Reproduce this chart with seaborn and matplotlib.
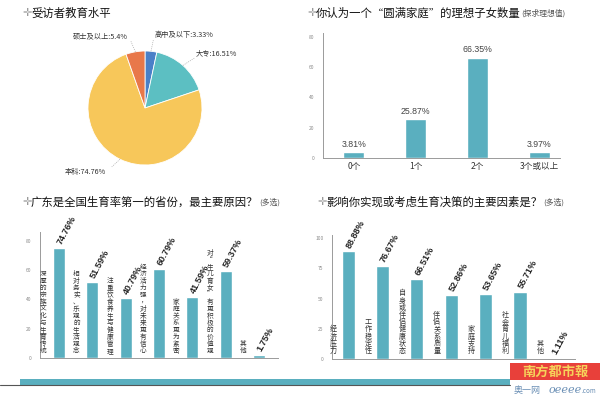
import matplotlib
matplotlib.use("Agg")
import matplotlib.pyplot as plt
import numpy as np
import pandas as pd
import seaborn as sns

W, H = 600, 399
CJK = ["Noto Sans CJK SC", "DejaVu Sans"]
BAR_COLOR = "#5aafbf"
TEXT_COLOR = "#333333"
TICK_COLOR = "#8a8a8a"
AXIS_COLOR = "#9a9a9a"

EDU_LABELS = ["高中及以下", "大专", "本科", "硕士及以上"]
EDU_VALUES = [3.33, 16.51, 74.76, 5.4]
EDU_TEXT = ["3.33%", "16.51%", "74.76%", "5.4%"]
EDU_COLORS = ["#4a80c8", "#5cbfc2", "#f7c75a", "#e8784a"]

KIDS_LABELS = ["0个", "1个", "2个", "3个或以上"]
KIDS_VALUES = [3.81, 25.87, 66.35, 3.97]

GD_LABELS = [
    "深厚的宗族文化与生育传统",
    "相对务实、乐观的生活观念",
    "注重饮食养生与健康管理",
    "经济活力强，对未来更有信心",
    "家庭关系更为紧密",
    "对“生儿育女”有更积极的价值观",
    "其他",
]
GD_VALUES = [74.76, 51.59, 40.79, 60.79, 41.59, 59.37, 1.75]

FACTOR_LABELS = ["经济压力", "工作稳定性", "自身或伴侣健康状态", "伴侣关系质量",
                 "家庭支持", "社会育儿福利", "其他"]
FACTOR_VALUES = [88.88, 76.67, 66.51, 52.86, 53.65, 55.71, 1.11]


def px_axes(fig, left, top, right, bottom):
    return fig.add_axes([left / W, 1 - bottom / H, (right - left) / W, (bottom - top) / H])


def style_axes(ax, ylim, yticks):
    ax.set_ylim(*ylim)
    ax.set_yticks(yticks)
    ax.set_yticklabels([str(t) for t in yticks], fontsize=3.5, color=TICK_COLOR)
    ax.tick_params(axis="y", length=0, pad=6)
    ax.set_xlabel("")
    ax.set_ylabel("")
    ax.grid(False)
    ax.set_facecolor("none")
    ax.spines[["top", "right"]].set_visible(False)
    for side in ["left", "bottom"]:
        ax.spines[side].set_color(AXIS_COLOR)
        ax.spines[side].set_linewidth(0.7)


def draw_bars(ax, labels, values, width):
    df = pd.DataFrame({"cat": labels, "val": values})
    sns.barplot(data=df, x="cat", y="val", color=BAR_COLOR, saturation=1,
                width=width, ax=ax, errorbar=None)


def rotated_values(ax, values, fontsize):
    for i, v in enumerate(values):
        ax.text(i + 0.12, v + 1.5, f"{v:.2f}%", rotation=62, rotation_mode="anchor",
                ha="left", va="bottom", fontsize=fontsize, fontweight="bold",
                color="#222222", family=["Liberation Sans", "DejaVu Sans"])


def vertical_labels(fig, ax, labels, offset, fontsize, bottom_px, step_px):
    # stack the characters one under the other, upright, left of each bar
    for i, lab in enumerate(labels):
        xd, _ = ax.transData.transform((i + offset, 0))
        n = len(lab)
        for k, ch in enumerate(lab):
            ypx = bottom_px - (n - 1 - k) * step_px
            fig.text(xd / W, 1 - ypx / H, ch, ha="center", va="bottom",
                     fontsize=fontsize, color=TEXT_COLOR, family=CJK)


sns.set_theme(style="white")
plt.rcParams["font.family"] = CJK
plt.rcParams["axes.unicode_minus"] = False

fig = plt.figure(figsize=(W / 100, H / 100), dpi=100)
fig.patch.set_facecolor("white")

# --- pie: education level ---
cx, cy, r = 145, 108, 57
pie_ax = px_axes(fig, cx - 1.6 * r, cy - 1.6 * r, cx + 1.6 * r, cy + 1.6 * r)
pie_ax.pie(EDU_VALUES, colors=EDU_COLORS, startangle=90, counterclock=False, radius=1,
           wedgeprops={"edgecolor": "white", "linewidth": 0.6})
pie_ax.set_xlim(-1.6, 1.6)
pie_ax.set_ylim(-1.6, 1.6)
pie_ax.set_aspect("equal")
pie_ax.axis("off")


def to_pie(px, py):
    return (px - cx) / r, -(py - cy) / r


pie_text = {
    "高中及以下": ((155, 35), "left"),
    "大专": ((196, 53), "left"),
    "本科": ((65, 172), "left"),
    "硕士及以上": ((128, 36), "right"),
}
cum = 0.0
for lab, val, txt in zip(EDU_LABELS, EDU_VALUES, EDU_TEXT):
    mid = np.deg2rad(90 - (cum + val / 2) * 3.6)
    cum += val
    (px, py), ha = pie_text[lab]
    tx, ty = to_pie(px, py)
    pie_ax.text(tx, ty, f"{lab}:{txt}", ha=ha, va="center", fontsize=5.2, color=TEXT_COLOR)
    ex, ey = np.cos(mid) * 1.0, np.sin(mid) * 1.0
    lx = tx + (0.05 if ha == "right" else -0.03)
    if lab == "本科":
        lx = tx + 0.82
    ly = ty - 0.09 if ty > 0 else ty + 0.09
    pie_ax.plot([ex, lx], [ey, ly], color="#aaaaaa", lw=0.5, ls=(0, (1.5, 1.5)))

# --- ideal number of children ---
kid_ax = px_axes(fig, 323, 33, 560, 158)
draw_bars(kid_ax, KIDS_LABELS, KIDS_VALUES, 0.34)
style_axes(kid_ax, (0, 82.6), [0, 20, 40, 60, 80])
kid_ax.set_xlim(-0.5, 3.34)
kid_ax.tick_params(axis="x", length=0, pad=3, labelsize=6.2, labelcolor=TEXT_COLOR)
for i, v in enumerate(KIDS_VALUES):
    kid_ax.text(i, v + 2.2, f"{v:.2f}%", ha="center", va="bottom", fontsize=6.3,
                color="#444444", family=["Liberation Sans", "DejaVu Sans"])

# --- why Guangdong ---
gd_ax = px_axes(fig, 40, 232, 278, 358)
draw_bars(gd_ax, GD_LABELS, GD_VALUES, 0.36)
style_axes(gd_ax, (0, 86), [0, 20, 40, 60, 80])
gd_ax.set_xlim(-0.57, 6.57)
gd_ax.set_xticks([])
rotated_values(gd_ax, GD_VALUES, 6.6)
vertical_labels(fig, gd_ax, GD_LABELS, -0.48, 4.8, 355, 7.0)

# --- factors ---
fa_ax = px_axes(fig, 332, 235, 575, 359)
draw_bars(fa_ax, FACTOR_LABELS, FACTOR_VALUES, 0.38)
style_axes(fa_ax, (0, 102.5), [0, 25, 50, 75, 100])
fa_ax.set_xlim(-0.47, 6.6)
fa_ax.set_xticks([])
rotated_values(fa_ax, FACTOR_VALUES, 6.6)
vertical_labels(fig, fa_ax, FACTOR_LABELS, -0.42, 5.1, 355, 7.2)

# --- overlay: titles and page decoration ---
deco = fig.add_axes([0, 0, 1, 1])
deco.set_xlim(0, W)
deco.set_ylim(H, 0)
deco.axis("off")
deco.set_zorder(-1)

titles = [
    (22, 13, "受访者教育水平", ""),
    (307, 13, "你认为一个“圆满家庭”的理想子女数量", "(探求理想值)"),
    (22, 202, "广东是全国生育率第一的省份，最主要原因？", "(多选)"),
    (317, 202, "影响你实现或考虑生育决策的主要因素是？", "(多选)"),
]
renderer = fig.canvas.get_renderer()
for x, y, main, sub in titles:
    deco.text(x, y, "✛", ha="left", va="center", fontsize=8, color="#9a9a9a",
              family=["DejaVu Sans"])
    t = deco.text(x + 9, y, main, ha="left", va="center", fontsize=8.2, color="#111111")
    if sub:
        bb = t.get_window_extent(renderer)
        deco.text(bb.x1 + 1, y + 0.5, sub, ha="left", va="center", fontsize=5.6,
                  color="#555555")

deco.add_patch(plt.Rectangle((20, 379), 490, 6, color="#5aafbf", lw=0))
deco.plot([0, 510], [385, 385], color="#555555", lw=0.8)
deco.add_patch(plt.Rectangle((510, 363), 90, 17, color="#e8403a", lw=0))
deco.text(555, 371.5, "南方都市報", ha="center", va="center", fontsize=9.5,
          color="#f6d25a", fontweight="bold")
deco.text(514, 390, "奥一网", ha="left", va="center", fontsize=6.5, color="#6a8fb5")
deco.text(549, 390, "oeeee", ha="left", va="center", fontsize=8, color="#6a8fb5",
          style="italic", family=["DejaVu Serif"])
deco.text(582, 391, ".com", ha="left", va="center", fontsize=4.5, color="#6a8fb5")

fig.savefig("out.png", dpi=100, facecolor="white")
